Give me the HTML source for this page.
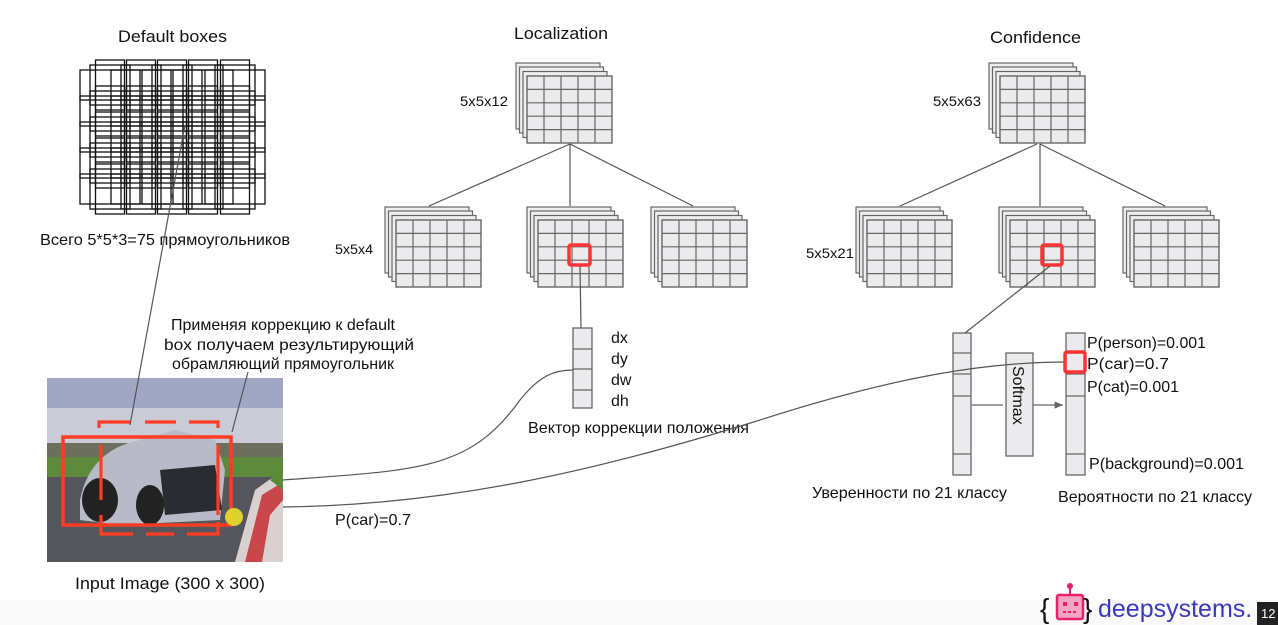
<!DOCTYPE html>
<html><head><meta charset="utf-8"><style>
html,body{margin:0;padding:0;background:#fff;}
svg{display:block;}
text{font-family:"Liberation Sans","DejaVu Sans",sans-serif;fill:#111;}
</style></head><body>
<svg width="1278" height="625" viewBox="0 0 1278 625" xmlns="http://www.w3.org/2000/svg">
<defs>
  <g id="stk">
    <rect x="0" y="0" width="84" height="66" fill="#eee" stroke="#666" stroke-width="1.2"/>
    <rect x="3.5" y="4" width="84" height="66" fill="#eee" stroke="#666" stroke-width="1.2"/>
    <rect x="7" y="8.5" width="84" height="66" fill="#eee" stroke="#666" stroke-width="1.2"/>
    <g transform="translate(11,13)">
      <rect x="0" y="0" width="85" height="67" fill="#ebebee" stroke="#666" stroke-width="1.4"/>
      <path d="M17 0V67M34 0V67M51 0V67M68 0V67M0 13.4H85M0 26.8H85M0 40.2H85M0 53.6H85" stroke="#666" stroke-width="1.2" fill="none"/>
    </g>
  </g>
  <g id="db" fill="none" stroke="#111" stroke-width="1.3">
    <rect x="-14.5" y="-25" width="29" height="50"/>
    <rect x="-30" y="-15" width="60" height="30"/>
    <rect x="-20" y="-20" width="40" height="40"/>
  </g>
  <marker id="ar" markerWidth="8" markerHeight="8" refX="7" refY="3" orient="auto"><path d="M0 0L7 3L0 6Z" fill="#666"/></marker>
</defs>

<text x="118" y="42" font-size="16.5" textLength="109" lengthAdjust="spacingAndGlyphs">Default boxes</text>
<text x="514" y="39" font-size="16.5" textLength="94" lengthAdjust="spacingAndGlyphs">Localization</text>
<text x="990" y="43" font-size="16.5" textLength="91" lengthAdjust="spacingAndGlyphs">Confidence</text>

<g>
  <use href="#db" x="110" y="85"/><use href="#db" x="141" y="85"/><use href="#db" x="172" y="85"/><use href="#db" x="203" y="85"/><use href="#db" x="235" y="85"/>
  <use href="#db" x="110" y="111"/><use href="#db" x="141" y="111"/><use href="#db" x="172" y="111"/><use href="#db" x="203" y="111"/><use href="#db" x="235" y="111"/>
  <use href="#db" x="110" y="137"/><use href="#db" x="141" y="137"/><use href="#db" x="172" y="137"/><use href="#db" x="203" y="137"/><use href="#db" x="235" y="137"/>
  <use href="#db" x="110" y="163"/><use href="#db" x="141" y="163"/><use href="#db" x="172" y="163"/><use href="#db" x="203" y="163"/><use href="#db" x="235" y="163"/>
  <use href="#db" x="110" y="189"/><use href="#db" x="141" y="189"/><use href="#db" x="172" y="189"/><use href="#db" x="203" y="189"/><use href="#db" x="235" y="189"/>
</g>
<text x="40" y="245" font-size="16" textLength="250" lengthAdjust="spacingAndGlyphs">Всего 5*5*3=75 прямоугольников</text>

<use href="#stk" x="516" y="63"/>
<text x="460" y="106" font-size="14" textLength="48" lengthAdjust="spacingAndGlyphs">5x5x12</text>
<path d="M570 144L429 206M570 144V206M570 144L693 206" stroke="#555" stroke-width="1.2" fill="none"/>
<use href="#stk" x="385" y="207"/>
<use href="#stk" x="527" y="207"/>
<use href="#stk" x="651" y="207"/>
<text x="335" y="254" font-size="14" textLength="38" lengthAdjust="spacingAndGlyphs">5x5x4</text>
<rect x="569" y="245" width="21" height="20" fill="none" stroke="#f33" stroke-width="3.5" rx="2"/>
<path d="M580 266L581 328" stroke="#555" stroke-width="1.2"/>
<rect x="573" y="328" width="19" height="80" fill="#ebebee" stroke="#666" stroke-width="1.3"/>
<path d="M573 349H592M573 369H592M573 390H592" stroke="#666" stroke-width="1.2"/>
<text x="611" y="343" font-size="16">dx</text>
<text x="611" y="364" font-size="16">dy</text>
<text x="611" y="385" font-size="16">dw</text>
<text x="611" y="406" font-size="16">dh</text>
<text x="528" y="433" font-size="16" textLength="221" lengthAdjust="spacingAndGlyphs">Вектор коррекции положения</text>

<use href="#stk" x="989" y="63"/>
<text x="933" y="106" font-size="14" textLength="48" lengthAdjust="spacingAndGlyphs">5x5x63</text>
<path d="M1037 144L900 206M1040 144V206M1040 144L1165 206" stroke="#555" stroke-width="1.2" fill="none"/>
<use href="#stk" x="856" y="207"/>
<use href="#stk" x="999" y="207"/>
<use href="#stk" x="1123" y="207"/>
<text x="806" y="258" font-size="14" textLength="48" lengthAdjust="spacingAndGlyphs">5x5x21</text>
<rect x="1042" y="245" width="20" height="20" fill="none" stroke="#f33" stroke-width="3.5" rx="2"/>
<path d="M1050 266L965 333" stroke="#555" stroke-width="1.2"/>
<rect x="953" y="333" width="18" height="142" fill="#ebebee" stroke="#666" stroke-width="1.3"/>
<path d="M953 353H971M953 374H971M953 396H971M953 454H971" stroke="#666" stroke-width="1.2"/>
<rect x="1006" y="353" width="27" height="103" fill="#ebebee" stroke="#666" stroke-width="1.3"/>
<text x="0" y="0" font-size="16" transform="translate(1013,366) rotate(90)">Softmax</text>
<rect x="1066" y="333" width="19" height="142" fill="#ebebee" stroke="#666" stroke-width="1.3"/>
<path d="M1066 353H1085M1066 374H1085M1066 396H1085M1066 454H1085" stroke="#666" stroke-width="1.2"/>
<path d="M972 405H1003M1033 405H1063" stroke="#666" stroke-width="1.2" marker-end="url(#ar)"/>
<text x="1087" y="348" font-size="16" textLength="119" lengthAdjust="spacingAndGlyphs">P(person)=0.001</text>
<text x="1087" y="369" font-size="16" textLength="82" lengthAdjust="spacingAndGlyphs">P(car)=0.7</text>
<text x="1087" y="392" font-size="16" textLength="92" lengthAdjust="spacingAndGlyphs">P(cat)=0.001</text>
<text x="1089" y="469" font-size="16" textLength="155" lengthAdjust="spacingAndGlyphs">P(background)=0.001</text>
<text x="812" y="498" font-size="16" textLength="195" lengthAdjust="spacingAndGlyphs">Уверенности по 21 классу</text>
<text x="1058" y="502" font-size="16" textLength="194" lengthAdjust="spacingAndGlyphs">Вероятности по 21 классу</text>

<text x="171" y="330" font-size="16" textLength="224" lengthAdjust="spacingAndGlyphs">Применяя коррекцию к default</text>
<text x="164" y="350" font-size="16" textLength="250" lengthAdjust="spacingAndGlyphs">box получаем результирующий</text>
<text x="172" y="369" font-size="16" textLength="222" lengthAdjust="spacingAndGlyphs">обрамляющий прямоугольник</text>

<g>
  <rect x="47" y="378" width="236" height="184" fill="#8d93a6"/>
  <rect x="47" y="378" width="236" height="30" fill="#a0a6c4"/>
  <rect x="47" y="408" width="236" height="35" fill="#c9ccd6"/>
  <rect x="47" y="443" width="236" height="14" fill="#6c6e5e"/>
  <rect x="47" y="457" width="236" height="20" fill="#5d8a3c"/>
  <rect x="47" y="477" width="236" height="85" fill="#55565c"/>
  <path d="M235 562L255 490L283 470V562Z" fill="#d9d0d0"/>
  <path d="M245 562L262 495L283 482V500L270 515L262 562Z" fill="#c9464a"/>
  <path d="M270 480Q280 470 283 468V490Z" fill="#5a8a3a"/>
  <path d="M80 500Q90 450 140 440L175 430L215 440L225 470L220 520L120 525L80 520Z" fill="#b8bbc7"/>
  <path d="M160 470L215 465L222 510L165 515Z" fill="#2b2b33"/>
  <ellipse cx="100" cy="500" rx="18" ry="22" fill="#222"/>
  <ellipse cx="150" cy="505" rx="14" ry="20" fill="#222"/>
  <g fill="none" stroke="#ff3b22" stroke-width="3.5">
    <rect x="63" y="437" width="168" height="88"/>
    <path d="M99 428V422H130M145 422H176M189 422H218V428M218 445V515M218 522V534H187M174 534H146M133 534H101V515M101 500V445" stroke-width="3.2"/>
  </g>
  <circle cx="234" cy="517" r="9" fill="#e8e02a" opacity="0.9"/>
</g>
<path d="M185 125L130 425" stroke="#555" stroke-width="1.2"/>
<path d="M248 372L232 432" stroke="#555" stroke-width="1.2"/>
<text x="75" y="589" font-size="16.5" textLength="190" lengthAdjust="spacingAndGlyphs">Input Image (300 x 300)</text>

<path d="M283 480C420 470 470 470 520 400C540 375 555 370 573 370" stroke="#555" stroke-width="1.2" fill="none"/>
<path d="M283 507C450 505 600 470 760 420C900 375 990 362 1066 362" stroke="#555" stroke-width="1.2" fill="none"/>
<rect x="1065" y="352" width="20" height="20" fill="none" stroke="#f33" stroke-width="3.5" rx="2"/>
<text x="335" y="525" font-size="16" textLength="76" lengthAdjust="spacingAndGlyphs">P(car)=0.7</text>

<rect x="0" y="600" width="1278" height="25" fill="#f7f7f7" opacity="0.6"/>
<text x="1040" y="618" font-size="28" style="fill:#111">{</text>
<rect x="1057" y="595" width="26" height="24" fill="#f6a4c4" stroke="#e8206a" stroke-width="2.5" rx="2"/>
<circle cx="1070" cy="586" r="3" fill="#e8206a"/><path d="M1070 588V595" stroke="#e8206a" stroke-width="2"/>
<rect x="1063" y="602" width="4" height="4" fill="#e8206a"/><rect x="1074" y="602" width="4" height="4" fill="#e8206a"/>
<path d="M1063 612H1078" stroke="#e8206a" stroke-width="2" stroke-dasharray="3 2"/>
<text x="1083" y="618" font-size="28" style="fill:#111">}</text>
<text x="1098" y="617" font-size="25" style="fill:#3a3ab8">deepsystems.</text>
<rect x="1257" y="602" width="21" height="23" fill="#222"/>
<text x="1261" y="618" font-size="13" style="fill:#fff">12</text>
</svg>
</body></html>
